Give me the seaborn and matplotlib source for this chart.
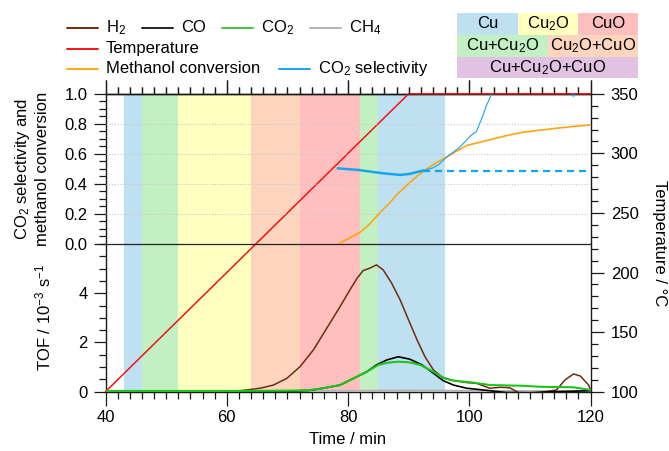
import matplotlib
matplotlib.use("Agg")
import matplotlib.pyplot as plt
from matplotlib.lines import Line2D
from matplotlib.patches import Rectangle
from matplotlib.ticker import MultipleLocator, FixedLocator, FormatStrFormatter, NullFormatter
import seaborn as sns
import pandas as pd

# ---------------- data ----------------
# phase regions (time in min)
phase_start = [43, 46, 52, 64, 72, 82, 85]
phase_end = [46, 52, 64, 72, 82, 85, 96]
phase_name = ["Cu", "Cu+Cu2O", "Cu2O", "Cu2O+CuO", "CuO", "Cu+Cu2O", "Cu"]

# temperature ramp (°C)
temp_time = [40, 50, 60, 70, 80, 90, 120]
temp_val = [100, 150, 200, 250, 300, 350, 350]

# TOF / 10^-3 s^-1
h2_time = [40, 50, 58, 62.2, 65.5, 67.7, 69.9, 72.1, 74.3, 76.5, 78.7, 80.3, 81.5, 82.5,
           83.6, 84.7, 85.8, 87.2, 88.6, 90.0, 91.4, 92.7, 94.1, 95.5, 96.8, 99.6,
           101.2, 103.4, 105.1, 106.7, 108.1, 111.0, 114.4, 115.8, 117.2, 118.3, 119.7, 120]
h2_tof = [0.02, 0.02, 0.03, 0.04, 0.14, 0.27, 0.54, 1.02, 1.70, 2.58, 3.46, 4.13, 4.61, 4.92,
          5.02, 5.15, 4.95, 4.41, 3.73, 2.91, 2.10, 1.42, 0.88, 0.60, 0.48, 0.37,
          0.34, 0.14, 0.18, 0.16, -0.04, -0.05, 0.07, 0.48, 0.72, 0.64, 0.27, 0.07]

co_time = [40, 60, 70, 73.5, 75.9, 78.7, 80.9, 83.1, 84.7, 86.4, 88.3, 90.2, 92.2,
           94.1, 95.7, 97.4, 99.6, 102.3, 106.0, 110.0, 114.0, 117.2, 120]
co_tof = [0.01, 0.01, 0.02, 0.05, 0.14, 0.27, 0.54, 0.81, 1.09, 1.29, 1.42, 1.32, 1.09,
          0.75, 0.45, 0.27, 0.14, 0.07, -0.03, -0.04, 0.0, 0.02, 0.04]

co2_time = [40, 60, 70, 73.5, 75.9, 78.7, 80.9, 83.1, 85.0, 86.6, 88.3, 90.2, 91.9,
            94.1, 95.7, 97.4, 100.7, 103.4, 108.9, 111.7, 117.2, 120]
co2_tof = [0.03, 0.03, 0.04, 0.06, 0.14, 0.27, 0.54, 0.81, 1.09, 1.18, 1.22, 1.19, 1.09,
           0.81, 0.56, 0.45, 0.37, 0.27, 0.24, 0.20, 0.18, 0.07]

ch4_time = [40, 60, 80, 90, 100, 110, 120]
ch4_tof = [0.01, 0.01, 0.02, 0.03, 0.02, 0.01, 0.01]

# methanol conversion and CO2 selectivity
conv_time = [78.4, 80.0, 82.0, 83.5, 85.3, 86.8, 88.1, 90.2, 91.5, 93.0, 94.5, 96.3, 98.0,
             99.6, 102.0, 104.0, 106.5, 108.9, 111.5, 114.5, 117.0, 120]
conv_val = [0.0, 0.035, 0.078, 0.13, 0.21, 0.27, 0.33, 0.41, 0.455, 0.50, 0.54, 0.58, 0.62,
            0.656, 0.68, 0.70, 0.725, 0.744, 0.757, 0.771, 0.782, 0.793]

sel_time = [78.3, 80.0, 81.7, 83.5, 85.3, 87.0, 88.6, 90.2, 91.3, 92.4]
sel_val = [0.504, 0.498, 0.493, 0.483, 0.473, 0.466, 0.460, 0.467, 0.478, 0.489]

sel_tail_time = [92.4, 94.0, 95.0, 96.3, 97.3, 98.3, 99.3, 100.2, 100.7, 101.2, 101.7, 102.3,
                 102.8, 103.4, 103.8, 104.2, 110.0, 116.8, 117.05, 117.3, 117.5]
sel_tail_val = [0.489, 0.507, 0.53, 0.58, 0.61, 0.64, 0.68, 0.72, 0.735, 0.75, 0.80, 0.86,
                0.92, 0.97, 1.02, 1.08, 1.3, 1.05, 0.985, 0.985, 1.05]

sel_steady_time = [92.4, 120]
sel_steady_val = [0.484, 0.484]

# ---------------- style ----------------
sns.set_theme(style="ticks")
plt.rcParams["font.family"] = ["Liberation Sans", "DejaVu Sans"]
plt.rcParams["mathtext.fontset"] = "custom"
plt.rcParams["mathtext.rm"] = "Liberation Sans"
plt.rcParams["mathtext.it"] = "Liberation Sans:italic"
plt.rcParams["mathtext.bf"] = "Liberation Sans:bold"
for key in ["text.color", "axes.labelcolor", "xtick.color", "ytick.color", "axes.edgecolor"]:
    plt.rcParams[key] = "black"
FS = 12

phase_colors = {
    "Cu": "#BEE0F0",
    "Cu2O": "#FFFFC0",
    "CuO": "#FFBFBF",
    "Cu+Cu2O": "#C2F0C2",
    "Cu2O+CuO": "#FDD5BE",
    "Cu+Cu2O+CuO": "#E2C2E2",
}
c_h2 = "#6E2C10"
c_co = "#000000"
c_co2 = "#1DC41D"
c_ch4 = "#B4B4B4"
c_temp = "#F21414"
c_conv = "#FFA510"
c_sel = "#14A6EC"

W, H = 669, 451
fig = plt.figure(figsize=(W / 100, H / 100), dpi=100)

x0, x1 = 105.5, 590.5
y_top, y_mid, y_bot = 93.8, 244.0, 391.7


def fx(px):
    return px / W


def fy(py):
    return 1 - py / H


ax_T = fig.add_axes([fx(x0), fy(y_bot), fx(x1) - fx(x0), fy(y_top) - fy(y_bot)], zorder=0)
ax_bot = fig.add_axes([fx(x0), fy(y_bot), fx(x1) - fx(x0), fy(y_mid) - fy(y_bot)], zorder=1)
ax_top = fig.add_axes([fx(x0), fy(y_mid), fx(x1) - fx(x0), fy(y_top) - fy(y_mid)], zorder=1)

for a in (ax_T, ax_bot, ax_top):
    a.set_xlim(40, 120)

# ---- background phases + temperature (full-height axes) ----
for s, e, n in zip(phase_start, phase_end, phase_name):
    ax_T.axvspan(s, e, color=phase_colors[n], lw=0, zorder=0)

temp_df = pd.DataFrame({"t": temp_time, "T": temp_val})
sns.lineplot(data=temp_df, x="t", y="T", ax=ax_T, color=c_temp, lw=1.1, sort=False,
             estimator=None, zorder=3, clip_on=False)
ax_T.set_ylim(100, 350)
ax_T.yaxis.tick_right()
ax_T.yaxis.set_label_position("right")
ax_T.yaxis.set_major_locator(MultipleLocator(50))
ax_T.yaxis.set_minor_locator(MultipleLocator(10))
ax_T.xaxis.set_major_locator(MultipleLocator(20))
ax_T.xaxis.set_minor_locator(MultipleLocator(2))
ax_T.tick_params(axis="x", which="both", direction="out", top=False, bottom=True,
                 labeltop=False, labelbottom=True, labelsize=FS, width=0.9, color="k", pad=3)
ax_T.tick_params(axis="x", which="major", length=10)
ax_T.tick_params(axis="x", which="minor", length=5)
ax_T.tick_params(axis="y", which="both", direction="out", left=False, right=True,
                 labelleft=False, labelright=True, labelsize=FS, width=0.9, color="k", pad=5.5)
ax_T.tick_params(axis="y", which="major", length=9)
ax_T.tick_params(axis="y", which="minor", length=5)
for sp in ax_T.spines.values():
    sp.set_visible(True)
    sp.set_linewidth(1.0)
    sp.set_color("k")
ax_T.set_xlabel("Time / min", fontsize=FS)
ax_T.xaxis.set_label_coords(0.5, -0.162)
ax_T.xaxis.label.set_va("center")
ax_T.set_ylabel("Temperature / °C", fontsize=FS)
ax_T.yaxis.label.set(rotation=270, va="center", ha="center", rotation_mode="anchor")
ax_T.yaxis.set_label_coords(1.143, 0.5)
ax_T.grid(False)

# time ticks along the upper edge, on a secondary axis of the temperature axes
sec = ax_T.secondary_xaxis("top")
sec.xaxis.set_major_locator(MultipleLocator(20))
sec.xaxis.set_minor_locator(MultipleLocator(2))
sec.xaxis.set_major_formatter(NullFormatter())
sec.tick_params(axis="x", which="both", direction="out", top=True, labeltop=False,
                width=0.9, color="k")
sec.tick_params(axis="x", which="major", length=10)
sec.tick_params(axis="x", which="minor", length=5)
sec.spines["top"].set_linewidth(1.0)

# ---- lower panel: TOF ----
ax_bot.patch.set_visible(False)
for sp in ax_bot.spines.values():
    sp.set_visible(False)
ax_bot.set_ylim(0, 6)
for tt, vv, cc, lw in [(ch4_time, ch4_tof, c_ch4, 2.0),
                       (h2_time, h2_tof, c_h2, 1.1),
                       (co_time, co_tof, c_co, 1.2),
                       (co2_time, co2_tof, c_co2, 1.5)]:
    sns.lineplot(x=tt, y=vv, ax=ax_bot, color=cc, lw=lw, sort=False, estimator=None)
ax_bot.yaxis.set_major_locator(FixedLocator([0, 2, 4]))
ax_bot.yaxis.set_minor_locator(MultipleLocator(0.5))
ax_bot.tick_params(axis="y", which="both", direction="out", left=True, right=False,
                   labelsize=FS, width=0.9, color="k", pad=4)
ax_bot.tick_params(axis="y", which="major", length=9)
ax_bot.tick_params(axis="y", which="minor", length=5)
ax_bot.tick_params(axis="x", which="both", bottom=False, top=False, labelbottom=False)
ax_bot.set_xlabel("")
ax_bot.set_ylabel("TOF / 10$^{-3}$ s$^{-1}$", fontsize=FS)
ax_bot.yaxis.label.set_va("center")
ax_bot.yaxis.set_label_coords(-0.128, 0.5)
ax_bot.grid(False)

# ---- upper panel: conversion and selectivity ----
ax_top.patch.set_visible(False)
for sp in ax_top.spines.values():
    sp.set_visible(False)
ax_top.set_ylim(0, 1)
for g in [0.2, 0.4, 0.6, 0.8]:
    ax_top.axhline(g, color="#C8C8C8", lw=0.8, ls=(0, (1, 1.5)), zorder=1)
ax_top.axhline(0, color="#222222", lw=0.9, zorder=2, clip_on=False)
sns.lineplot(x=conv_time, y=conv_val, ax=ax_top, color=c_conv, lw=1.2, sort=False, estimator=None, zorder=3)
sns.lineplot(x=sel_tail_time, y=sel_tail_val, ax=ax_top, color=c_sel, lw=0.8, sort=False, estimator=None, zorder=3)
sns.lineplot(x=sel_time, y=sel_val, ax=ax_top, color=c_sel, lw=1.8, sort=False, estimator=None, zorder=4)
sns.lineplot(x=sel_steady_time, y=sel_steady_val, ax=ax_top, color=c_sel, lw=1.6,
             ls=(0, (3.2, 2.2)), sort=False, estimator=None, zorder=3)
ax_top.yaxis.set_major_locator(MultipleLocator(0.2))
ax_top.yaxis.set_minor_locator(MultipleLocator(0.05))
ax_top.yaxis.set_major_formatter(FormatStrFormatter("%.1f"))
ax_top.tick_params(axis="y", which="both", direction="out", left=True, right=False,
                   labelsize=FS, width=0.9, color="k", pad=4)
ax_top.tick_params(axis="y", which="major", length=9)
ax_top.tick_params(axis="y", which="minor", length=5)
ax_top.xaxis.set_major_locator(MultipleLocator(20))
ax_top.xaxis.set_minor_locator(MultipleLocator(2))
ax_top.xaxis.set_ticks_position("top")
ax_top.tick_params(axis="x", which="both", bottom=False, top=True, labelbottom=False,
                   labeltop=False, direction="out", width=0.9, color="k")
ax_top.tick_params(axis="x", which="major", length=10)
ax_top.tick_params(axis="x", which="minor", length=5)
ax_top.set_xlabel("")
ax_top.set_ylabel("CO$_2$ selectivity and\nmethanol conversion", fontsize=FS, linespacing=1.25)
ax_top.yaxis.label.set_va("center")
ax_top.yaxis.set_label_coords(-0.152, 0.5)
ax_top.grid(False)

# ---------------- legends ----------------
def leg_entry(px0, py, color, label, lw=1.4):
    fig.add_artist(Line2D([fx(px0), fx(px0 + 31)], [fy(py), fy(py)],
                          transform=fig.transFigure, color=color, lw=lw))
    fig.text(fx(px0 + 39), fy(py), label, fontsize=FS, va="center", ha="left")


leg_entry(67, 27.5, c_h2, "H$_2$")
leg_entry(142, 27.5, "#222222", "CO")
leg_entry(222, 27.5, "#44C444", "CO$_2$")
leg_entry(310, 27.5, c_ch4, "CH$_4$")
leg_entry(67, 49.0, c_temp, "Temperature")
leg_entry(67, 68.5, c_conv, "Methanol conversion")
leg_entry(279, 68.5, c_sel, "CO$_2$ selectivity")

# phase key
phase_boxes = [
    ("Cu", 457, 518, 12.7, 35.0, "Cu"),
    ("Cu2O", 518, 578, 12.7, 35.0, "Cu$_2$O"),
    ("CuO", 578, 638, 12.7, 35.0, "CuO"),
    ("Cu+Cu2O", 457, 548, 35.0, 57.3, "Cu+Cu$_2$O"),
    ("Cu2O+CuO", 548, 638, 35.0, 57.3, "Cu$_2$O+CuO"),
    ("Cu+Cu2O+CuO", 457, 638, 57.3, 78.3, "Cu+Cu$_2$O+CuO"),
]
for key, bx0, bx1, by0, by1, lab in phase_boxes:
    fig.add_artist(Rectangle((fx(bx0), fy(by1)), fx(bx1) - fx(bx0), fy(by0) - fy(by1),
                             transform=fig.transFigure, facecolor=phase_colors[key],
                             edgecolor="none"))
    fig.text(fx((bx0 + bx1) / 2), fy((by0 + by1) / 2), lab, fontsize=FS,
             ha="center", va="center")

fig.savefig("out.png", dpi=100)
